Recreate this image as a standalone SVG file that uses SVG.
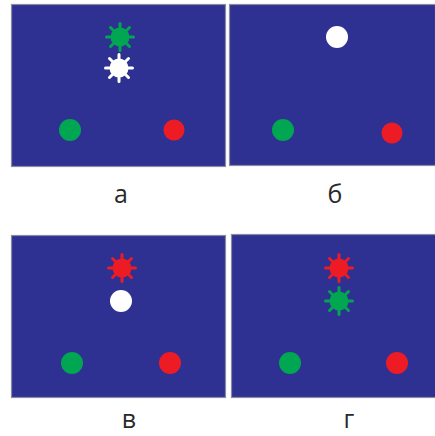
<svg xmlns="http://www.w3.org/2000/svg" width="435" height="436" viewBox="0 0 435 436">
<style>
.panel{fill:#2e3192;stroke:#8a8aa0;stroke-width:1.2}
.lbl{font-family:"Open Sans","DejaVu Sans",sans-serif;font-size:25px;fill:#2a2a2a;text-anchor:middle}
.g{fill:#00a651;color:#00a651}
.r{fill:#ed1c24;color:#ed1c24}
.w{fill:#ffffff;color:#ffffff}
</style>
<defs>
<g id="star">
<circle cx="0" cy="0" r="9.5" fill="currentColor"/>
<path d="M0,-13.5V13.5M-13.5,0H13.5M-9.5,-9.5L9.5,9.5M-9.5,9.5L9.5,-9.5" stroke="currentColor" stroke-width="3" stroke-linecap="round"/>
</g>
</defs>
<rect width="435" height="436" fill="#ffffff"/>
<g id="panel-a">
<rect class="panel" x="11.5" y="4.5" width="214" height="162"/>
<use href="#star" x="120" y="37" class="g"/>
<use href="#star" x="119" y="68" class="w"/>
<circle class="g" cx="70" cy="130" r="11"/>
<circle class="r" cx="174" cy="130" r="10.5"/>
<text class="lbl" x="121" y="203">а</text>
</g>
<g id="panel-b">
<rect class="panel" x="229.5" y="4.5" width="206" height="161"/>
<circle class="w" cx="337" cy="37" r="11"/>
<circle class="g" cx="283" cy="130" r="11"/>
<circle class="r" cx="392" cy="133" r="10.5"/>
<text class="lbl" x="335" y="203">б</text>
</g>
<g id="panel-v">
<rect class="panel" x="11.5" y="235.5" width="214" height="162"/>
<use href="#star" x="122" y="268" class="r"/>
<circle class="w" cx="121" cy="301" r="11"/>
<circle class="g" cx="72" cy="363" r="11"/>
<circle class="r" cx="170" cy="363" r="11"/>
<text class="lbl" x="129" y="428">в</text>
</g>
<g id="panel-g">
<rect class="panel" x="231.5" y="234.5" width="205" height="163"/>
<use href="#star" x="339" y="268" class="r"/>
<use href="#star" x="339" y="301" class="g"/>
<circle class="g" cx="290" cy="363" r="11"/>
<circle class="r" cx="397" cy="363" r="11"/>
<text class="lbl" x="349" y="428">г</text>
</g>
<g id="connectors"/>
</svg>
